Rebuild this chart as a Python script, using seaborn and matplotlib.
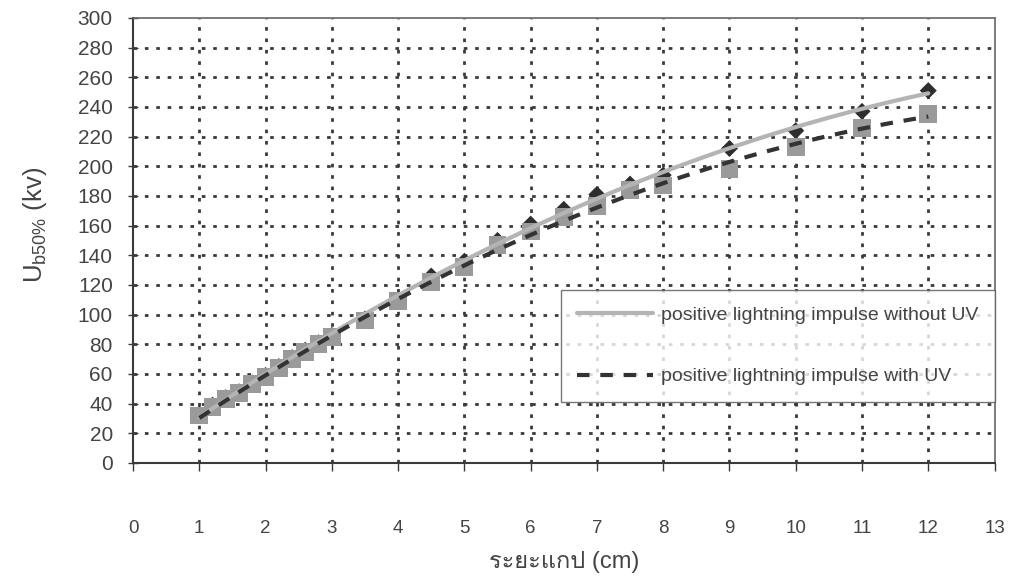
import matplotlib
matplotlib.use("Agg")
import matplotlib.pyplot as plt
from matplotlib import font_manager
from matplotlib.ft2font import FT2Font
import numpy as np
import pandas as pd
import seaborn as sns

# Gap distance (cm) and 50% breakdown voltage (kV)
gap_cm = [1.0, 1.2, 1.4, 1.6, 1.8, 2.0, 2.2, 2.4, 2.6, 2.8, 3.0, 3.5, 4.0,
          4.5, 5.0, 5.5, 6.0, 6.5, 7.0, 7.5, 8.0, 9.0, 10.0, 11.0, 12.0]
u_without_uv = [33, 39, 44, 48, 54, 59, 65, 71, 76, 81, 86, 97, 110,
                126, 136, 150, 161, 171, 181, 188, 194, 212, 224, 237, 251]
u_with_uv = [32, 38, 43, 47, 53, 58, 64, 70, 75, 80, 85, 96, 109,
             122, 132, 147, 156, 166, 173, 184, 187, 198, 213, 226, 235]

label_without = "positive lightning impulse without UV"
label_with = "positive lightning impulse with UV"
x_ticks = list(range(0, 14))
y_ticks = list(range(0, 301, 20))

df = pd.DataFrame({"gap": gap_cm, "without": u_without_uv, "with": u_with_uv})

# second-order trend lines through each series
xs = np.linspace(min(gap_cm), max(gap_cm), 200)
fit_without = np.polyval(np.polyfit(gap_cm, u_without_uv, 2), xs)
fit_with = np.polyval(np.polyfit(gap_cm, u_with_uv, 2), xs)
trend = pd.DataFrame({"gap": xs, "without": fit_without, "with": fit_with})


def find_thai_font():
    for f in font_manager.fontManager.ttflist:
        try:
            cmap = FT2Font(f.fname).get_charmap()
        except Exception:
            continue
        if ord("ร") in cmap and ord("ะ") in cmap:
            return f.name
    return None


sns.set_theme(style="white")
thai = find_thai_font()
base = "Liberation Sans"
plt.rcParams["font.family"] = [base] + ([thai] if thai else []) + ["DejaVu Sans"]
plt.rcParams["mathtext.fontset"] = "custom"
plt.rcParams["mathtext.rm"] = base
plt.rcParams["mathtext.it"] = base

ink = "#3a3a3a"
text_col = "#444444"
fig = plt.figure(figsize=(10.13, 5.78), dpi=100)
ax = fig.add_axes([0.1313, 0.199, 0.8505, 0.770])

# grid
for xv in x_ticks[1:-1]:
    ax.axvline(xv, color=ink, lw=2.0, ls=(0, (1.3, 2.8)), zorder=1)
for yv in y_ticks[1:-1]:
    ax.axhline(yv, color=ink, lw=2.0, ls=(0, (1.3, 2.8)), zorder=1)

# markers
sns.scatterplot(data=df, x="gap", y="without", marker="D", s=75, color="#2e2e2e",
                edgecolor="none", ax=ax, zorder=3, legend=False)
sns.scatterplot(data=df, x="gap", y="with", marker="s", s=165, color="#9a9a9a",
                edgecolor="none", ax=ax, zorder=4, legend=False)

# trend lines
sns.lineplot(data=trend, x="gap", y="without", color="#b4b4b4", lw=3.0,
             ax=ax, zorder=5, label=label_without)
sns.lineplot(data=trend, x="gap", y="with", color="#333333", lw=3.0,
             ax=ax, zorder=6, label=label_with)
ax.lines[-1].set_dashes((3.0, 2.6))

ax.set_xlim(0, 13)
ax.set_ylim(0, 300)
ax.set_xticks(x_ticks)
ax.set_yticks(y_ticks)
ax.tick_params(axis="x", direction="out", length=6, width=1, color=ink,
               pad=35, labelsize=13.5, labelcolor=text_col)
ax.tick_params(axis="y", direction="inout", length=7, width=1, color=ink,
               pad=11, labelsize=15, labelcolor=text_col)
ax.tick_params(left=True, bottom=True)

for side in ("left", "bottom"):
    ax.spines[side].set_color(ink)
    ax.spines[side].set_linewidth(1.5)
for side in ("top", "right"):
    ax.spines[side].set_color("#666666")
    ax.spines[side].set_linewidth(1.2)
    ax.spines[side].set_linestyle((0, (1, 1)))

ax.set_xlabel("ระยะแกป (cm)", fontsize=17, color=text_col, labelpad=10)
ax.set_ylabel(r"U$_{\mathrm{b50\%}}$ (kv)", fontsize=18.5, color=text_col)
ax.yaxis.set_label_coords(-0.098, 0.535)

leg = ax.legend(loc="upper right", bbox_to_anchor=(1.0, 0.389), frameon=True,
                fancybox=False, fontsize=14, handlelength=3.9,
                labelspacing=2.25, borderpad=0.85, handletextpad=0.4,
                borderaxespad=0)
leg.get_frame().set_edgecolor("#555555")
leg.get_frame().set_linewidth(1.0)
for t in leg.get_texts():
    t.set_color(text_col)
leg.set_zorder(10)

fig.savefig("out.png", dpi=100, facecolor="white")
